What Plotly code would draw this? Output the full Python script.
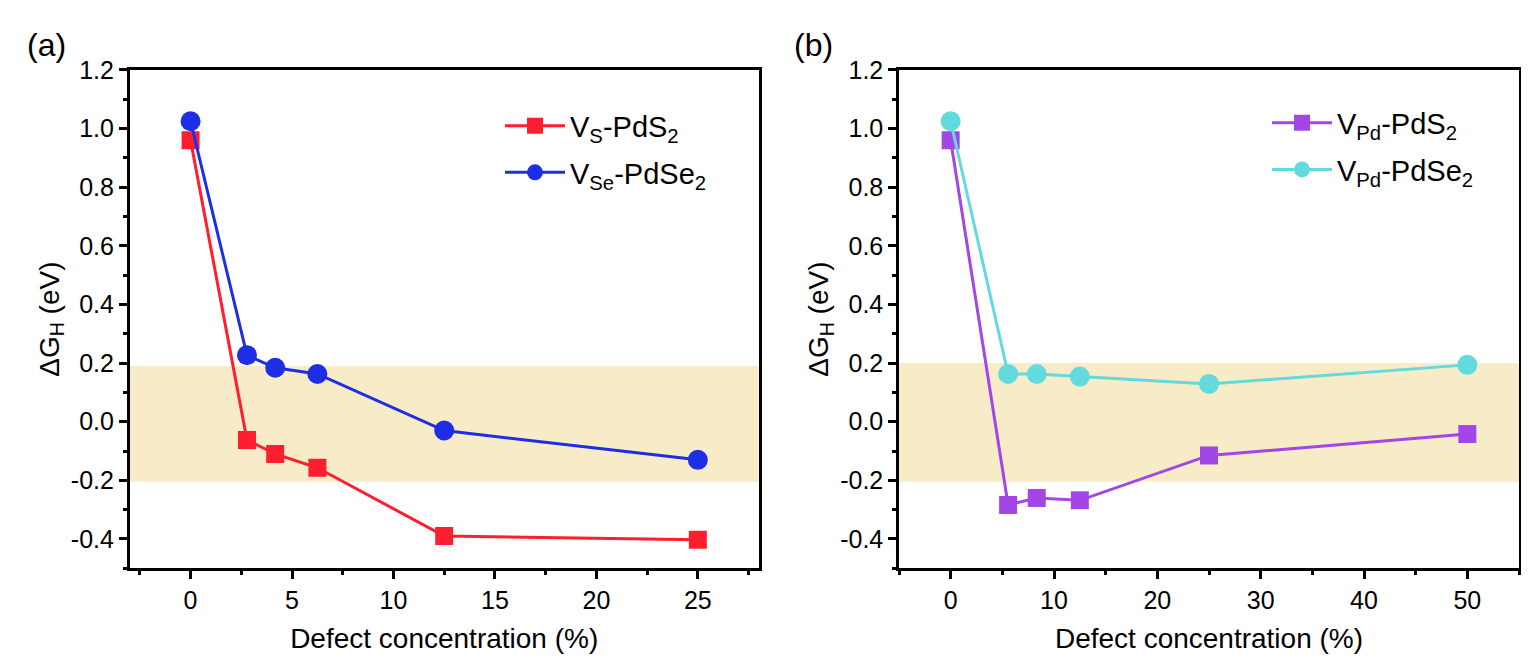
import plotly.graph_objects as go

# panel (a): S / Se vacancies
conc_a = [0, 2.78, 4.17, 6.25, 12.5, 25]
vs_pds2 = [0.96, -0.062, -0.11, -0.157, -0.39, -0.403]
vse_pdse2 = [1.025, 0.227, 0.184, 0.163, -0.03, -0.13]

# panel (b): Pd vacancies
conc_b = [0, 5.56, 8.33, 12.5, 25, 50]
vpd_pds2 = [0.96, -0.284, -0.26, -0.268, -0.115, -0.042]
vpd_pdse2 = [1.025, 0.163, 0.163, 0.154, 0.129, 0.194]

# y ticks (plain hyphen for negatives, as in the original)
y_ticks = [-0.4, -0.2, 0.0, 0.2, 0.4, 0.6, 0.8, 1.0, 1.2]
y_labels = ["-0.4", "-0.2", "0.0", "0.2", "0.4", "0.6", "0.8", "1.0", "1.2"]

W, H = 1529, 668
FONT = "Liberation Sans, Arial, sans-serif"

RED = "#FF1E2D"
BLUE = "#1E2EE6"
PURPLE = "#A246E6"
CYAN = "#62DADE"
BAND = "#F8EBC8"

fig = go.Figure()

def add_series(x, y, name, color, symbol, size, xa, ya, leg, grp):
    fig.add_trace(go.Scatter(
        x=x, y=y, name=name, mode="lines+markers",
        line=dict(color=color, width=3),
        marker=dict(color=color, symbol=symbol, size=size),
        xaxis=xa, yaxis=ya, legend=leg, legendgroup=grp,
    ))

add_series(conc_a, vs_pds2, "V<sub>S</sub>-PdS<sub>2</sub>", RED, "square", 18, "x", "y", "legend", "a1")
add_series(conc_a, vse_pdse2, "V<sub>Se</sub>-PdSe<sub>2</sub>", BLUE, "circle", 20, "x", "y", "legend", "a2")
add_series(conc_b, vpd_pds2, "V<sub>Pd</sub>-PdS<sub>2</sub>", PURPLE, "square", 18, "x2", "y2", "legend2", "b1")
add_series(conc_b, vpd_pdse2, "V<sub>Pd</sub>-PdSe<sub>2</sub>", CYAN, "circle", 20, "x2", "y2", "legend2", "b2")

# shaded band near zero
for xr, yr, y0, y1 in [("x domain", "y", -0.205, 0.19), ("x2 domain", "y2", -0.205, 0.2)]:
    fig.add_shape(type="rect", xref=xr, yref=yr, x0=0, x1=1, y0=y0, y1=y1,
                  fillcolor=BAND, line=dict(width=0), layer="below")

def xaxis(dom, rng, dtick, anchor):
    return dict(
        domain=dom, range=rng, dtick=dtick, anchor=anchor,
        showline=True, mirror=True, linecolor="black", linewidth=2.5,
        ticks="outside", ticklen=8, tickwidth=2.5, tickcolor="black",
        minor=dict(ticks="outside", ticklen=4, tickwidth=2.5, dtick=dtick / 2, tickcolor="black"),
        showgrid=False, zeroline=False,
        tickfont=dict(size=25, color="black"),
        title=dict(text="Defect concentration (%)", font=dict(size=28, color="black"), standoff=16),
    )

def yaxis(dom, anchor):
    return dict(
        domain=dom, range=[-0.5, 1.2], anchor=anchor,
        tickmode="array", tickvals=y_ticks, ticktext=y_labels,
        showline=True, mirror=True, linecolor="black", linewidth=2.5,
        ticks="outside", ticklen=8, tickwidth=2.5, tickcolor="black",
        minor=dict(ticks="outside", ticklen=4, tickwidth=2.5, tick0=0, dtick=0.1, tickcolor="black"),
        showgrid=False, zeroline=False,
        tickfont=dict(size=25, color="black"),
        title=dict(text="ΔG<sub>H</sub> (eV)", font=dict(size=28, color="black"), standoff=4),
    )

ydom = [1 - 558 / H, 1 - 49 / H]

fig.update_layout(
    width=W, height=H,
    margin=dict(l=0, r=0, t=0, b=0),
    plot_bgcolor="white", paper_bgcolor="white",
    font=dict(family=FONT, color="black"),
    xaxis=xaxis([121.7 / W, 750.7 / W], [-3, 28], 5, "y"),
    yaxis=yaxis(ydom, "x"),
    xaxis2=xaxis([891 / W, 1511 / W], [-5, 55], 10, "y2"),
    yaxis2=yaxis(ydom, "x2"),
    legend=dict(x=492 / W, y=1 - 80 / H, xanchor="left", yanchor="top",
                font=dict(size=29), bgcolor="rgba(0,0,0,0)", tracegroupgap=6, itemwidth=60),
    legend2=dict(x=1259 / W, y=1 - 77 / H, xanchor="left", yanchor="top",
                 font=dict(size=29), bgcolor="rgba(0,0,0,0)", tracegroupgap=6, itemwidth=60),
    showlegend=True,
)

fig.add_annotation(text="(a)", x=38 / W, y=1 - 23 / H, xref="paper", yref="paper",
                   xanchor="center", yanchor="middle", showarrow=False, font=dict(size=32))
fig.add_annotation(text="(b)", x=805 / W, y=1 - 23 / H, xref="paper", yref="paper",
                   xanchor="center", yanchor="middle", showarrow=False, font=dict(size=32))

fig.write_html("out.html")
